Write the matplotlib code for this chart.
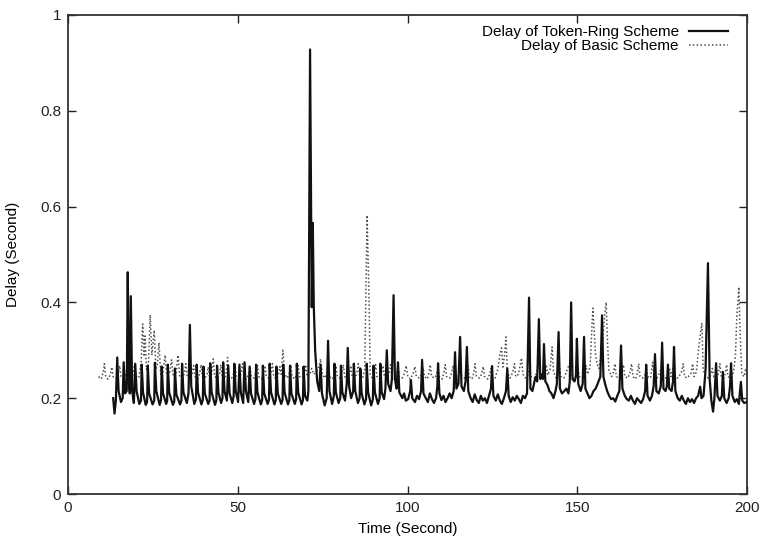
import numpy as np
import matplotlib
matplotlib.use("Agg")
import matplotlib.pyplot as plt

# ---------------- data (time in s, delay in s) ----------------
token_ring_first = [
    (13.3, 0.200), (13.7, 0.168), (14.1, 0.195), (14.5, 0.285), (14.9, 0.215), (15.6, 0.192),
    (16.1, 0.200), (16.4, 0.275), (16.8, 0.210), (17.3, 0.215), (17.6, 0.463), (17.9, 0.240),
    (18.2, 0.210), (18.5, 0.413), (18.9, 0.215), (19.4, 0.190), (19.8, 0.272), (20.2, 0.215),
    (21.0, 0.188), (21.5, 0.195), (21.7, 0.270), (22.1, 0.212), (22.9, 0.186), (23.3, 0.192),
    (23.5, 0.268), (23.9, 0.210), (24.9, 0.187), (25.4, 0.195), (25.6, 0.274), (26.0, 0.215),
    (27.0, 0.186), (27.4, 0.196), (27.6, 0.266), (28.0, 0.210), (28.9, 0.188), (29.2, 0.194),
    (29.4, 0.270), (29.8, 0.212), (30.9, 0.186), (31.3, 0.193), (31.5, 0.262), (31.9, 0.208),
    (33.0, 0.187), (33.4, 0.195), (33.6, 0.272), (34.0, 0.212), (35.0, 0.190), (35.5, 0.210),
    (35.9, 0.353), (36.3, 0.225), (37.2, 0.188), (37.7, 0.198), (37.9, 0.270), (38.3, 0.212),
    (39.3, 0.187), (39.7, 0.196), (39.9, 0.266), (40.3, 0.210), (41.3, 0.188), (41.7, 0.195),
    (41.9, 0.273), (42.3, 0.212), (43.3, 0.186), (43.7, 0.196), (43.9, 0.268), (44.3, 0.212),
    (45.1, 0.190), (45.5, 0.200), (45.7, 0.275), (46.1, 0.215), (46.8, 0.195), (47.2, 0.268),
    (47.6, 0.210), (48.4, 0.190), (48.8, 0.205), (49.0, 0.272), (49.4, 0.215), (50.1, 0.192),
    (50.5, 0.270), (50.9, 0.212), (51.6, 0.190), (52.0, 0.275), (52.4, 0.215), (53.1, 0.192),
    (53.5, 0.266), (53.9, 0.210), (54.8, 0.188), (55.2, 0.198), (55.4, 0.270), (55.8, 0.212),
    (56.8, 0.187), (57.2, 0.196), (57.4, 0.268), (57.8, 0.210), (58.8, 0.188), (59.2, 0.197),
    (59.4, 0.272), (59.8, 0.212), (60.8, 0.187), (61.2, 0.196), (61.4, 0.266), (61.8, 0.210),
    (62.8, 0.188), (63.2, 0.197), (63.4, 0.270), (63.8, 0.212), (64.8, 0.187), (65.2, 0.196),
    (65.4, 0.268), (65.8, 0.210), (66.8, 0.188), (67.2, 0.198), (67.4, 0.272), (67.8, 0.212),
    (68.8, 0.187), (69.2, 0.196), (69.4, 0.266), (69.8, 0.205), (70.5, 0.195), (70.8, 0.215),
    (71.3, 0.928), (71.8, 0.390), (72.1, 0.566), (72.4, 0.390), (72.8, 0.300), (73.4, 0.235),
    (74.0, 0.215), (74.4, 0.270), (74.8, 0.210), (75.6, 0.185), (76.2, 0.200), (76.6, 0.320),
    (77.0, 0.215), (77.8, 0.188), (78.3, 0.205), (78.5, 0.272), (78.9, 0.212), (79.7, 0.190),
    (80.2, 0.200), (80.4, 0.268), (80.8, 0.212), (81.6, 0.195), (82.1, 0.230), (82.4, 0.305),
    (82.8, 0.225), (83.4, 0.200), (84.0, 0.215), (84.2, 0.272), (84.6, 0.215), (85.4, 0.190),
    (85.9, 0.200), (86.1, 0.262), (86.5, 0.210), (87.3, 0.187), (87.8, 0.198), (88.0, 0.272),
    (88.4, 0.212), (89.3, 0.185), (89.8, 0.198), (90.0, 0.268), (90.4, 0.212), (91.3, 0.188),
    (91.8, 0.200), (92.0, 0.272), (92.4, 0.212), (93.1, 0.198), (93.5, 0.220), (93.9, 0.300),
    (94.3, 0.230), (95.0, 0.215), (95.4, 0.240), (95.9, 0.415), (96.3, 0.240), (96.8, 0.220),
    (97.2, 0.275), (97.6, 0.212), (98.5, 0.200), (99.0, 0.210), (99.5, 0.195),
]

token_ring_second = [
    (100.2, 0.198), (100.8, 0.215), (101.0, 0.238), (101.4, 0.200), (102.2, 0.192), (102.8, 0.205),
    (103.4, 0.198), (104.0, 0.215), (104.3, 0.280), (104.7, 0.210), (105.4, 0.200), (106.0, 0.192),
    (106.6, 0.210), (107.2, 0.198), (107.8, 0.190), (108.4, 0.200), (108.8, 0.225), (109.0, 0.273),
    (109.4, 0.210), (110.0, 0.196), (110.6, 0.205), (111.2, 0.192), (111.8, 0.200), (112.4, 0.210),
    (113.0, 0.200), (113.6, 0.215), (114.0, 0.296), (114.4, 0.220), (115.0, 0.230), (115.5, 0.328),
    (115.9, 0.225), (116.6, 0.215), (117.1, 0.235), (117.5, 0.307), (117.9, 0.215), (118.6, 0.200),
    (119.2, 0.192), (119.8, 0.208), (120.4, 0.196), (121.0, 0.190), (121.6, 0.205), (122.2, 0.195),
    (122.8, 0.200), (123.4, 0.190), (124.0, 0.205), (124.6, 0.220), (124.9, 0.267), (125.3, 0.205),
    (126.0, 0.195), (126.6, 0.208), (127.2, 0.195), (127.8, 0.188), (128.4, 0.200), (129.0, 0.215),
    (129.4, 0.262), (129.8, 0.205), (130.4, 0.192), (131.0, 0.202), (131.6, 0.195), (132.2, 0.205),
    (132.8, 0.198), (133.4, 0.190), (134.0, 0.205), (134.6, 0.200), (135.2, 0.210), (135.8, 0.410),
    (136.2, 0.220), (136.8, 0.215), (137.4, 0.235), (137.8, 0.245), (138.2, 0.235), (138.7, 0.365),
    (139.1, 0.240), (139.6, 0.250), (139.9, 0.240), (140.2, 0.313), (140.6, 0.235), (141.2, 0.228),
    (141.8, 0.215), (142.4, 0.210), (143.0, 0.200), (143.6, 0.215), (144.0, 0.230), (144.5, 0.338),
    (144.9, 0.220), (145.5, 0.210), (146.2, 0.215), (146.8, 0.220), (147.4, 0.210), (147.8, 0.235),
    (148.2, 0.400), (148.6, 0.240), (149.2, 0.235), (149.6, 0.245), (149.9, 0.324), (150.3, 0.230),
    (151.0, 0.215), (151.6, 0.230), (152.0, 0.328), (152.4, 0.220), (153.0, 0.210), (153.6, 0.200),
    (154.2, 0.205), (154.8, 0.215), (155.4, 0.220), (156.0, 0.230), (156.8, 0.245), (157.3, 0.373),
    (157.7, 0.245), (158.2, 0.230), (158.8, 0.215), (159.4, 0.205), (160.0, 0.198), (160.6, 0.200),
    (161.2, 0.193), (161.8, 0.205), (162.4, 0.215), (162.9, 0.310), (163.3, 0.220), (164.0, 0.205),
    (164.6, 0.198), (165.2, 0.195), (165.8, 0.205), (166.4, 0.195), (167.0, 0.188), (167.6, 0.200),
    (168.2, 0.195), (168.8, 0.190), (169.4, 0.198), (170.0, 0.215), (170.3, 0.270), (170.7, 0.205),
    (171.4, 0.195), (172.0, 0.205), (172.5, 0.225), (172.9, 0.292), (173.3, 0.215), (174.0, 0.210),
    (174.6, 0.225), (175.0, 0.316), (175.4, 0.220), (176.0, 0.215), (176.4, 0.225), (176.7, 0.270),
    (177.1, 0.220), (177.8, 0.215), (178.2, 0.235), (178.5, 0.307), (178.9, 0.215), (179.6, 0.200),
    (180.2, 0.195), (180.8, 0.205), (181.4, 0.195), (182.0, 0.188), (182.6, 0.200), (183.2, 0.192),
    (183.8, 0.198), (184.4, 0.190), (185.0, 0.200), (185.6, 0.205), (186.2, 0.224), (186.6, 0.200),
    (187.2, 0.205), (187.8, 0.260), (188.5, 0.482), (189.0, 0.240), (189.5, 0.195), (190.0, 0.172),
    (190.4, 0.200), (190.9, 0.273), (191.3, 0.205), (192.0, 0.195), (192.6, 0.205), (192.9, 0.255),
    (193.3, 0.200), (194.0, 0.190), (194.6, 0.200), (195.0, 0.225), (195.3, 0.273), (195.7, 0.205),
    (196.4, 0.192), (197.0, 0.198), (197.6, 0.188), (198.2, 0.234), (198.6, 0.195), (199.2, 0.190),
    (200.0, 0.192),
]

basic_first = [
    (9.0, 0.245), (9.8, 0.240), (10.4, 0.255), (10.7, 0.272), (11.1, 0.245), (11.8, 0.240),
    (12.5, 0.250), (12.9, 0.265), (13.3, 0.245), (14.2, 0.242), (14.8, 0.250), (15.2, 0.268),
    (15.6, 0.245), (16.4, 0.242), (17.0, 0.250), (17.4, 0.262), (17.8, 0.245), (18.6, 0.240),
    (19.2, 0.252), (19.6, 0.270), (20.0, 0.245), (20.8, 0.242), (21.5, 0.270), (22.0, 0.355),
    (22.4, 0.290), (22.7, 0.330), (23.1, 0.260), (23.7, 0.270), (24.2, 0.374), (24.7, 0.290),
    (25.4, 0.342), (25.9, 0.260), (26.3, 0.270), (26.8, 0.316), (27.3, 0.250), (28.0, 0.255),
    (28.6, 0.290), (29.1, 0.248), (29.9, 0.250), (30.5, 0.280), (31.0, 0.245), (31.8, 0.250),
    (32.4, 0.290), (32.9, 0.245), (33.7, 0.242), (34.3, 0.252), (34.7, 0.272), (35.1, 0.245),
    (36.0, 0.240), (36.6, 0.252), (37.0, 0.268), (37.4, 0.245), (38.2, 0.240), (38.8, 0.252),
    (39.2, 0.270), (39.6, 0.245), (40.4, 0.242), (41.0, 0.250), (41.3, 0.265), (41.7, 0.245),
    (42.3, 0.250), (42.8, 0.282), (43.2, 0.245), (44.0, 0.242), (44.6, 0.250), (45.0, 0.270),
    (45.4, 0.245), (46.2, 0.240), (46.6, 0.255), (47.0, 0.285), (47.4, 0.245), (48.2, 0.242),
    (48.8, 0.252), (49.2, 0.268), (49.6, 0.245), (50.4, 0.242), (51.0, 0.252), (51.4, 0.272),
    (51.8, 0.245), (52.6, 0.240), (53.2, 0.250), (53.6, 0.266), (54.0, 0.245), (54.8, 0.242),
    (55.4, 0.252), (55.8, 0.270), (56.2, 0.245), (57.0, 0.240), (57.6, 0.252), (58.0, 0.268),
    (58.4, 0.245), (59.2, 0.242), (59.8, 0.252), (60.2, 0.272), (60.6, 0.245), (61.4, 0.240),
    (62.0, 0.250), (62.4, 0.266), (62.8, 0.250), (63.3, 0.300), (63.8, 0.250), (64.6, 0.242),
    (65.2, 0.252), (65.6, 0.270), (66.0, 0.245), (66.8, 0.240), (67.4, 0.252), (67.8, 0.268),
    (68.2, 0.245), (69.0, 0.242), (69.6, 0.252), (70.0, 0.270), (70.4, 0.245), (71.2, 0.250),
    (71.8, 0.262), (72.4, 0.250), (73.2, 0.255), (73.8, 0.262), (74.4, 0.282), (74.9, 0.250),
    (75.7, 0.242), (76.3, 0.255), (76.7, 0.272), (77.1, 0.245), (77.9, 0.240), (78.5, 0.252),
    (78.9, 0.268), (79.3, 0.245), (80.1, 0.242), (80.7, 0.252), (81.1, 0.270), (81.5, 0.245),
    (82.3, 0.240), (82.9, 0.252), (83.3, 0.268), (83.7, 0.245), (84.5, 0.242), (85.1, 0.252),
    (85.5, 0.272), (85.9, 0.245), (86.7, 0.240), (87.4, 0.260), (88.1, 0.582), (88.7, 0.400),
    (89.0, 0.250), (89.6, 0.242), (90.2, 0.252), (90.6, 0.270), (91.0, 0.245), (91.8, 0.240),
    (92.4, 0.252), (92.8, 0.268), (93.2, 0.245), (94.0, 0.242), (94.6, 0.252), (95.0, 0.270),
    (95.4, 0.245), (96.2, 0.240), (96.8, 0.250), (97.2, 0.266), (97.6, 0.245), (98.4, 0.242),
    (99.0, 0.250), (99.6, 0.268),
]

basic_second = [
    (100.1, 0.245), (100.8, 0.240), (101.6, 0.250), (102.2, 0.266), (102.6, 0.245), (103.5, 0.242),
    (104.2, 0.250), (104.6, 0.264), (105.0, 0.245), (105.8, 0.240), (106.3, 0.252), (106.7, 0.270),
    (107.1, 0.245), (108.0, 0.242), (108.6, 0.250), (109.0, 0.265), (109.4, 0.245), (110.2, 0.240),
    (110.7, 0.252), (111.1, 0.270), (111.5, 0.245), (112.4, 0.242), (113.0, 0.252), (113.4, 0.268),
    (113.8, 0.245), (114.6, 0.240), (115.2, 0.250), (115.6, 0.266), (116.0, 0.245), (116.8, 0.242),
    (117.4, 0.252), (117.8, 0.270), (118.2, 0.245), (119.0, 0.240), (119.5, 0.252), (119.9, 0.272),
    (120.3, 0.245), (121.2, 0.242), (121.8, 0.250), (122.3, 0.266), (122.7, 0.245), (123.6, 0.240),
    (124.2, 0.250), (124.6, 0.262), (125.0, 0.245), (125.8, 0.242), (126.6, 0.260), (127.2, 0.290),
    (127.7, 0.305), (128.1, 0.265), (128.6, 0.290), (129.0, 0.328), (129.4, 0.255), (130.2, 0.242),
    (130.9, 0.252), (131.5, 0.272), (131.9, 0.245), (132.7, 0.250), (133.2, 0.270), (133.6, 0.284),
    (134.0, 0.250), (134.8, 0.242), (135.6, 0.250), (136.0, 0.262), (136.4, 0.245), (137.3, 0.242),
    (138.0, 0.252), (138.6, 0.280), (139.0, 0.250), (139.8, 0.242), (140.5, 0.252), (140.9, 0.270),
    (141.3, 0.248), (142.0, 0.260), (142.6, 0.307), (143.0, 0.255), (143.8, 0.242), (144.4, 0.250),
    (144.8, 0.262), (145.2, 0.245), (146.0, 0.242), (146.7, 0.252), (147.3, 0.265), (147.9, 0.272),
    (148.3, 0.245), (149.1, 0.240), (149.8, 0.250), (150.2, 0.264), (150.6, 0.245), (151.4, 0.242),
    (152.2, 0.252), (152.6, 0.268), (153.0, 0.250), (153.8, 0.265), (154.2, 0.330), (154.6, 0.388),
    (155.0, 0.340), (155.4, 0.290), (155.9, 0.270), (156.4, 0.262), (157.0, 0.290), (157.6, 0.330),
    (158.1, 0.375), (158.5, 0.400), (158.9, 0.320), (159.3, 0.260), (160.1, 0.245), (160.7, 0.255),
    (161.1, 0.272), (161.5, 0.245), (162.4, 0.242), (163.0, 0.252), (163.6, 0.270), (164.0, 0.245),
    (164.9, 0.242), (165.5, 0.252), (166.0, 0.272), (166.4, 0.245), (167.2, 0.240), (167.7, 0.252),
    (168.1, 0.272), (168.5, 0.245), (169.3, 0.242), (170.0, 0.250), (170.4, 0.262), (170.8, 0.245),
    (171.6, 0.242), (172.2, 0.275), (172.6, 0.245), (173.4, 0.240), (174.4, 0.255), (174.9, 0.272),
    (175.3, 0.245), (176.1, 0.242), (176.8, 0.252), (177.2, 0.262), (177.6, 0.245), (178.4, 0.270),
    (178.8, 0.245), (179.6, 0.242), (180.6, 0.252), (181.2, 0.272), (181.6, 0.245), (182.4, 0.242),
    (183.5, 0.252), (184.0, 0.272), (184.4, 0.245), (185.1, 0.255), (185.7, 0.300), (186.2, 0.330),
    (186.7, 0.357), (187.1, 0.260), (187.8, 0.245), (188.6, 0.242), (189.4, 0.250), (189.8, 0.262),
    (190.2, 0.245), (191.0, 0.242), (191.6, 0.252), (192.0, 0.272), (192.4, 0.245), (193.2, 0.242),
    (193.6, 0.252), (194.0, 0.270), (194.4, 0.245), (195.2, 0.242), (195.8, 0.250), (196.2, 0.262),
    (196.6, 0.290), (197.0, 0.370), (197.6, 0.432), (198.0, 0.330), (198.5, 0.250), (199.2, 0.245),
    (199.6, 0.262), (200.0, 0.245),
]

x_ticks = [0, 50, 100, 150, 200]
x_tick_labels = ["0", "50", "100", "150", "200"]
y_ticks = [0, 0.2, 0.4, 0.6, 0.8, 1.0]
y_tick_labels = ["0", "0.2", "0.4", "0.6", "0.8", "1"]
series_labels = ["Delay of Token-Ring Scheme", "Delay of Basic Scheme"]

# ---------------- drawing ----------------
plt.rcParams['font.family'] = ['Liberation Sans', 'DejaVu Sans']

tr = np.array(token_ring_first + token_ring_second)
bs = np.array(basic_first + basic_second)

fig = plt.figure(figsize=(7.63, 5.39), dpi=100)
ax = fig.add_axes([68 / 763, 1 - 494 / 539, (747 - 68) / 763, (494 - 15) / 539])

ax.plot(tr[:, 0], tr[:, 1], color='#111111', lw=1.6, label=series_labels[0], zorder=3)
ax.plot(bs[:, 0], bs[:, 1], color='#505050', lw=1.1, linestyle=(0, (1, 1.5)),
        label=series_labels[1], zorder=2)

ax.set_xlim(0, 200)
ax.set_ylim(0, 1)
ax.set_xticks(x_ticks)
ax.set_xticklabels(x_tick_labels)
ax.set_yticks(y_ticks)
ax.set_yticklabels(y_tick_labels)
ax.tick_params(direction='in', length=6, width=1.0, top=True, right=True,
               labelsize=11, pad=5, colors='#222222')
for s in ax.spines.values():
    s.set_linewidth(1.3)
    s.set_color('#333333')

ax.set_xlabel("Time (Second)", fontsize=11, labelpad=5)
ax.set_ylabel("Delay (Second)", fontsize=11, labelpad=14)

leg = ax.legend(loc='upper right', frameon=False, markerfirst=False, alignment='right',
                fontsize=11, handlelength=2.6, handletextpad=0.65, labelspacing=0.0,
                borderaxespad=0.0, borderpad=0.2, bbox_to_anchor=(0.977, 0.985))

fig.savefig("out.png", dpi=100)
